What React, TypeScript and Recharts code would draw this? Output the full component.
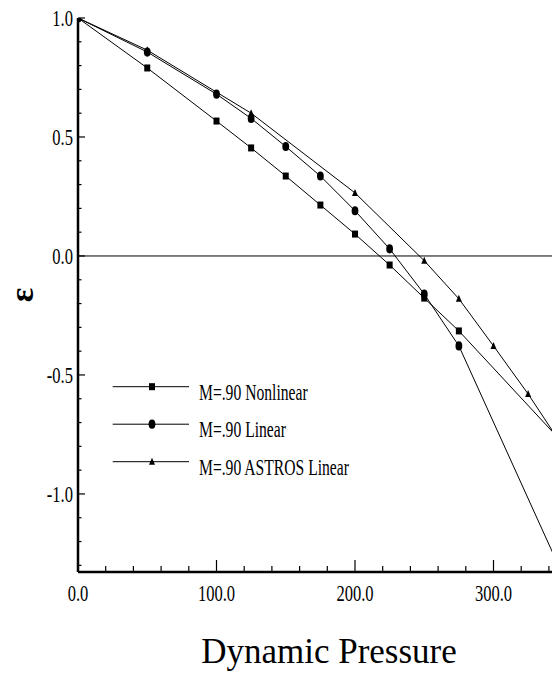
import React from 'react';
import { LineChart, Line, XAxis, YAxis, ReferenceLine, Legend, Label } from 'recharts';

// M=.90 Nonlinear
const nonlinearQ = [0, 50, 100, 125, 150, 175, 200, 225, 250, 275, 350];
const nonlinearEps = [1.0, 0.79, 0.567, 0.454, 0.336, 0.214, 0.092, -0.038, -0.177, -0.315, -0.785];

// M=.90 Linear
const linearQ = [0, 50, 100, 125, 150, 175, 200, 225, 250, 275, 350];
const linearEps = [1.0, 0.857, 0.68, 0.578, 0.46, 0.336, 0.19, 0.03, -0.16, -0.378, -1.34];

// M=.90 ASTROS Linear
const astrosQ = [0, 50, 125, 200, 250, 275, 300, 325, 350];
const astrosEps = [1.0, 0.865, 0.6, 0.265, -0.02, -0.18, -0.378, -0.58, -0.8];

const xTicks = [0, 20, 40, 60, 80, 100, 120, 140, 160, 180, 200, 220, 240, 260, 280, 300, 320, 340, 360, 380, 400];
const xLabels = [0, 100, 200, 300];
const yTicks = [-1.3, -1.2, -1.1, -1.0, -0.9, -0.8, -0.7, -0.6, -0.5, -0.4, -0.3, -0.2, -0.1, 0.0, 0.1, 0.2, 0.3, 0.4, 0.5, 0.6, 0.7, 0.8, 0.9, 1.0];
const yLabels = [-1.0, -0.5, 0.0, 0.5, 1.0];

const FONT = '"Liberation Serif", "Times New Roman", serif';

const toRows = (qs: number[], eps: number[]) => qs.map((q, i) => ({ q, eps: eps[i] }));

const isLabel = (v: number, labels: number[]) => labels.some((l) => Math.abs(l - v) < 1e-9);

const Square = ({ cx, cy }: any) => <rect x={cx - 3} y={cy - 3.5} width={6} height={7} fill="#000" />;
const Dot = ({ cx, cy }: any) => <ellipse cx={cx} cy={cy} rx={3.4} ry={4.6} fill="#000" />;
const Tri = ({ cx, cy }: any) => (
    <polygon points={`${cx},${cy - 4} ${cx + 3},${cy + 3} ${cx - 3},${cy + 3}`} fill="#000" />
);

const series = [
    { name: 'M=.90 Nonlinear', data: toRows(nonlinearQ, nonlinearEps), Marker: Square },
    { name: 'M=.90 Linear', data: toRows(linearQ, linearEps), Marker: Dot },
    { name: 'M=.90 ASTROS Linear', data: toRows(astrosQ, astrosEps), Marker: Tri },
];

const LeftTick = (props: any) => {
    const { x, y, payload } = props;
    const major = isLabel(payload.value, yLabels);
    return (
        <g>
            <line x1={x} x2={x + (major ? 7 : 3.5)} y1={y} y2={y} stroke="#000" strokeWidth={1.2} />
            {major && (
                <text transform={`translate(${x - 5},${y + 8}) scale(0.72,1)`} textAnchor="end"
                    fontFamily={FONT} fontSize={23} fill="#000">
                    {payload.value.toFixed(1)}
                </text>
            )}
        </g>
    );
};

const BottomTick = (props: any) => {
    const { x, y, payload } = props;
    const major = x <= 560 && (payload.value % 100 === 0);
    const labelled = isLabel(payload.value, xLabels);
    return (
        <g>
            <line x1={x} x2={x} y1={y} y2={y - (major ? 12 : 6)} stroke="#000" strokeWidth={1.2} />
            {labelled && (
                <text transform={`translate(${x},${y + 29}) scale(0.72,1)`} textAnchor="middle"
                    fontFamily={FONT} fontSize={23} fill="#000">
                    {payload.value.toFixed(1)}
                </text>
            )}
        </g>
    );
};

const TopTick = (props: any) => {
    const { x, y, payload } = props;
    const major = payload.value % 100 === 0;
    return <line x1={x} x2={x} y1={y} y2={y + (major ? 11 : 5)} stroke="#000" strokeWidth={1.2} />;
};

const XTitle = ({ viewBox }: any) => (
    <text x={viewBox.x + 251} y={viewBox.y + 91} textAnchor="middle" fontFamily={FONT} fontSize={35} fill="#000">
        Dynamic Pressure
    </text>
);

const YTitle = ({ viewBox }: any) => {
    const cx = viewBox.x + 21;
    const cy = viewBox.y + viewBox.height / 2;
    return (
        <text x={cx} y={cy} transform={`rotate(-90, ${cx}, ${cy})`} textAnchor="middle" dominantBaseline="central"
            fontFamily={FONT} fontSize={34} fontWeight="bold" fill="#000">
            ε
        </text>
    );
};

const LegendBox = () => (
    <svg width={300} height={110} style={{ display: 'block' }}>
        {series.map((s, i) => {
            const y = 16.7 + i * 37.5;
            const M = s.Marker;
            return (
                <g key={s.name}>
                    <line x1={12.7} x2={89} y1={y} y2={y} stroke="#000" strokeWidth={1} />
                    <M cx={52} cy={y} />
                    <text transform={`translate(99,${y + 13}) scale(0.68,1)`} fontFamily={FONT} fontSize={23} fill="#000">
                        {s.name}
                    </text>
                </g>
            );
        })}
    </svg>
);

export default function App() {
    return (
        <div style={{ position: 'fixed', left: 0, top: 0, width: 552, height: 674, overflow: 'hidden', background: '#fff' }}>
            <LineChart width={652} height={674} margin={{ top: 18, right: 20, left: 0, bottom: 0 }}>
                <XAxis xAxisId="bottom" type="number" dataKey="q" domain={[0, 400]} allowDataOverflow
                    ticks={xTicks} interval={0} tickSize={0} tickMargin={0} tickLine={false}
                    tick={<BottomTick />} height={102} axisLine={{ stroke: '#000', strokeWidth: 2.5 }}>
                    <Label content={XTitle} />
                </XAxis>
                <XAxis xAxisId="top" orientation="top" type="number" dataKey="q" domain={[0, 400]} allowDataOverflow
                    ticks={xTicks} interval={0} tickSize={0} tickMargin={0} tickLine={false}
                    tick={<TopTick />} height={0} axisLine={{ stroke: '#000', strokeWidth: 2.5 }} />
                <YAxis type="number" dataKey="eps" domain={[-1.328, 1]} allowDataOverflow
                    ticks={yTicks} interval={0} tickSize={0} tickMargin={0} tickLine={false}
                    tick={<LeftTick />} width={78} axisLine={{ stroke: '#000', strokeWidth: 2.5 }}>
                    <Label content={YTitle} />
                </YAxis>
                <ReferenceLine xAxisId="bottom" y={0} stroke="#000" strokeWidth={1} />
                {series.map((s) => (
                    <Line key={s.name} xAxisId="bottom" data={s.data} dataKey="eps" name={s.name}
                        stroke="#000" strokeWidth={1} isAnimationActive={false}
                        dot={(p: any) => <s.Marker key={`${s.name}-${p.index}`} cx={p.cx} cy={p.cy} />}
                        activeDot={false} />
                ))}
                <Legend content={LegendBox} layout="vertical" align="center" verticalAlign="middle"
                    wrapperStyle={{ position: 'absolute', left: 100, top: 370, width: 300, height: 110 }} />
            </LineChart>
        </div>
    );
}
